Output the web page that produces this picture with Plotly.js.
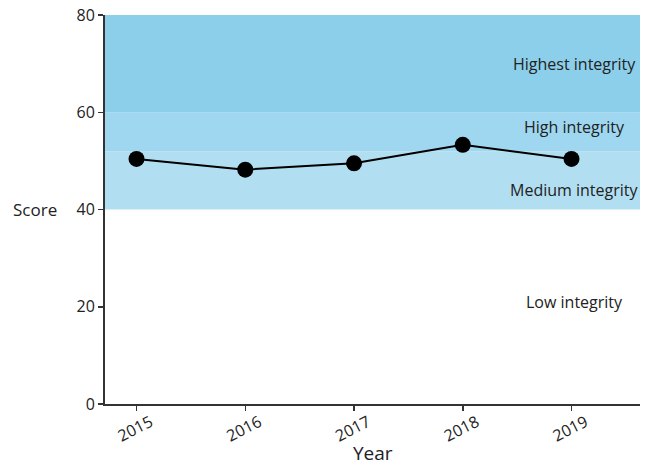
<!DOCTYPE html>
<html>
<head>
<meta charset="utf-8">
<script src="https://cdn.plot.ly/plotly-3.0.1.min.js"></script>
<style>html,body{margin:0;padding:0;background:#fff;}#chart{width:650px;height:468px;}</style>
</head>
<body>
<div id="chart"></div>
<script>
const years = [2015, 2016, 2017, 2018, 2019];
const scores = [50.4, 48.2, 49.5, 53.3, 50.4];
const bandNames = ["Low integrity", "Medium integrity", "High integrity", "Highest integrity"];
const bandLow = [0, 40, 52, 60];
const bandHigh = [40, 52, 60, 80];
const bandLabelY = [21, 44, 57, 70];
const bandColors = ["rgba(0,0,0,0)", "#b1dff1", "#9ed7ef", "#8ccfea"];

const shapes = bandNames.map((n, i) => ({
  type: "rect", xref: "paper", yref: "y", x0: 0, x1: 1,
  y0: bandLow[i], y1: bandHigh[i], fillcolor: bandColors[i],
  line: {width: 0}, layer: "below"
}));

const annotations = bandNames.map((n, i) => ({
  text: n, xref: "paper", yref: "y", x: 0.877, y: bandLabelY[i],
  showarrow: false, xanchor: "center", yanchor: "middle",
  font: {size: 16, color: "#222", family: "Open Sans, sans-serif"}
}));
annotations.push({
  text: "Score", xref: "paper", yref: "y", x: -0.131, y: 40,
  showarrow: false, xanchor: "center", yanchor: "middle",
  font: {size: 17, color: "#222", family: "Open Sans, sans-serif"}
});
annotations.push({
  text: "Year", xref: "paper", yref: "paper", x: 0.5, y: -0.126,
  showarrow: false, xanchor: "center", yanchor: "middle",
  font: {size: 19, color: "#222", family: "Open Sans, sans-serif"}
});

const trace = {
  x: years, y: scores, type: "scatter", mode: "lines+markers",
  line: {color: "#000", width: 2},
  marker: {color: "#000", size: 16},
  hoverinfo: "skip", showlegend: false
};

const layout = {
  width: 650, height: 468,
  margin: {l: 105, r: 10, t: 15, b: 64},
  paper_bgcolor: "#fff", plot_bgcolor: "rgba(0,0,0,0)",
  font: {family: "Open Sans, sans-serif", color: "#222", size: 16},
  xaxis: {
    range: [2014.71, 2019.63], tickvals: years, ticktext: years.map(String),
    tickangle: -27, ticklabelshift: 14, ticklabelstandoff: -4,
    showgrid: false, zeroline: false,
    showline: true, linecolor: "#333", linewidth: 2,
    ticks: "outside", ticklen: 5, tickcolor: "#333", tickwidth: 1.5,
    tickfont: {size: 16, color: "#222"}
  },
  yaxis: {
    range: [0, 80], tickvals: [0, 20, 40, 60, 80],
    showgrid: false, zeroline: false,
    showline: true, linecolor: "#333", linewidth: 2,
    ticks: "outside", ticklen: 5, tickcolor: "#333", tickwidth: 1.5,
    tickfont: {size: 16, color: "#222"}
  },
  shapes: shapes,
  annotations: annotations
};

Plotly.newPlot("chart", [trace], layout, {displayModeBar: false, staticPlot: true});
</script>
</body>
</html>
